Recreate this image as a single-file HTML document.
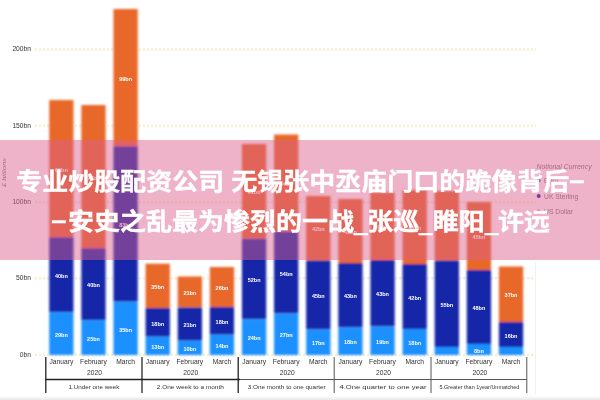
<!DOCTYPE html>
<html lang="zh-CN"><head><meta charset="utf-8"><title>chart</title>
<style>
html,body{margin:0;padding:0;background:#fff}
body{width:600px;height:400px;position:relative;overflow:hidden}
.foot{position:absolute;left:0;top:396px;width:600px;height:4px;background:linear-gradient(#fff,#e6e6e6)}
.band{position:absolute;left:0;top:140px;width:600px;height:120px;background:rgba(219,96,140,.48)}
.t{position:absolute;left:0;width:600px;height:40px;text-align:center;white-space:nowrap;color:#fff;font:bold 26px/40px "Liberation Sans","Noto Sans CJK SC",sans-serif;transform:scaleY(.91);transform-origin:50% 50%;-webkit-text-stroke:.4px #fff;filter:blur(.4px)}
.d{display:inline-block;width:14.5px;height:30px;vertical-align:top;position:relative}
.d span{position:absolute;left:1px;top:-2.2px;display:block;transform:scale(.53,1.1);transform-origin:0 50%}
.d2{width:18px}
.d2 span{left:1.6px}
.u{display:inline-block;width:13.3px;transform:translateY(4.4px) scale(.92,1.9);transform-origin:0 85%}
</style></head><body>
<svg width="600" height="400" viewBox="0 0 600 400" style="position:absolute;left:0;top:0"><defs><filter id="b" x="-5%" y="-5%" width="110%" height="110%"><feGaussianBlur stdDeviation="1.0"/></filter><filter id="lb" x="-5%" y="-5%" width="110%" height="110%"><feGaussianBlur stdDeviation="0.45"/></filter><filter id="tb" x="-20%" y="-50%" width="140%" height="200%"><feGaussianBlur stdDeviation="0.7"/></filter></defs><g filter="url(#tb)"><line x1="35" x2="536" y1="49.6" y2="49.6" stroke="#F8F0D4" stroke-width="2.6" stroke-dasharray="2.2 1.8"/><line x1="35" x2="536" y1="125.9" y2="125.9" stroke="#F8F0D4" stroke-width="2.6" stroke-dasharray="2.2 1.8"/><line x1="35" x2="536" y1="202.2" y2="202.2" stroke="#F8F0D4" stroke-width="2.6" stroke-dasharray="2.2 1.8"/><line x1="35" x2="536" y1="278.2" y2="278.2" stroke="#F8F0D4" stroke-width="2.6" stroke-dasharray="2.2 1.8"/><line x1="35" x2="536" y1="354.8" y2="354.8" stroke="#F8F0D4" stroke-width="2.6" stroke-dasharray="2.2 1.8"/><line x1="535.5" x2="535.5" y1="262" y2="394" stroke="#f0f0f0" stroke-width="1"/></g><g filter="url(#b)"><rect x="49.20" y="100" width="24.3" height="137" fill="#E8682A"/><rect x="49.20" y="237" width="24.3" height="75.19999999999999" fill="#1226A8"/><rect x="49.20" y="312.2" width="24.3" height="42.80000000000001" fill="#1E90FF"/><rect x="81.32" y="105" width="24.3" height="143" fill="#E8682A"/><rect x="81.32" y="248" width="24.3" height="72.19999999999999" fill="#1226A8"/><rect x="81.32" y="320.2" width="24.3" height="34.80000000000001" fill="#1E90FF"/><rect x="113.44" y="9" width="24.3" height="137" fill="#E8682A"/><rect x="113.44" y="146" width="24.3" height="155.7" fill="#1226A8"/><rect x="113.44" y="301.7" width="24.3" height="53.30000000000001" fill="#1E90FF"/><rect x="145.56" y="263.7" width="24.3" height="44.30000000000001" fill="#E8682A"/><rect x="145.56" y="308" width="24.3" height="28.69999999999999" fill="#1226A8"/><rect x="145.56" y="336.7" width="24.3" height="18.30000000000001" fill="#1E90FF"/><rect x="177.68" y="276.5" width="24.3" height="31.0" fill="#E8682A"/><rect x="177.68" y="307.5" width="24.3" height="33.19999999999999" fill="#1226A8"/><rect x="177.68" y="340.7" width="24.3" height="14.300000000000011" fill="#1E90FF"/><rect x="209.80" y="267" width="24.3" height="40" fill="#E8682A"/><rect x="209.80" y="307" width="24.3" height="27.69999999999999" fill="#1226A8"/><rect x="209.80" y="334.7" width="24.3" height="20.30000000000001" fill="#1E90FF"/><rect x="241.92" y="144" width="24.3" height="94.5" fill="#E8682A"/><rect x="241.92" y="238.5" width="24.3" height="80.80000000000001" fill="#1226A8"/><rect x="241.92" y="319.3" width="24.3" height="35.69999999999999" fill="#1E90FF"/><rect x="274.04" y="134.5" width="24.3" height="97.0" fill="#E8682A"/><rect x="274.04" y="231.5" width="24.3" height="82.0" fill="#1226A8"/><rect x="274.04" y="313.5" width="24.3" height="41.5" fill="#1E90FF"/><rect x="306.16" y="196" width="24.3" height="64.5" fill="#E8682A"/><rect x="306.16" y="260.5" width="24.3" height="69.0" fill="#1226A8"/><rect x="306.16" y="329.5" width="24.3" height="25.5" fill="#1E90FF"/><rect x="338.28" y="199" width="24.3" height="64" fill="#E8682A"/><rect x="338.28" y="263" width="24.3" height="64.5" fill="#1226A8"/><rect x="338.28" y="327.5" width="24.3" height="27.5" fill="#1E90FF"/><rect x="370.40" y="192.5" width="24.3" height="67.5" fill="#E8682A"/><rect x="370.40" y="260" width="24.3" height="66.5" fill="#1226A8"/><rect x="370.40" y="326.5" width="24.3" height="28.5" fill="#1E90FF"/><rect x="402.52" y="190" width="24.3" height="74" fill="#E8682A"/><rect x="402.52" y="264" width="24.3" height="65" fill="#1226A8"/><rect x="402.52" y="329" width="24.3" height="26" fill="#1E90FF"/><rect x="434.64" y="191" width="24.3" height="69.5" fill="#E8682A"/><rect x="434.64" y="260.5" width="24.3" height="86.5" fill="#1226A8"/><rect x="434.64" y="347" width="24.3" height="8" fill="#1E90FF"/><rect x="466.76" y="202" width="24.3" height="68" fill="#E8682A"/><rect x="466.76" y="270" width="24.3" height="74" fill="#1226A8"/><rect x="466.76" y="344" width="24.3" height="11" fill="#1E90FF"/><rect x="498.88" y="266.5" width="24.3" height="55.5" fill="#E8682A"/><rect x="498.88" y="322" width="24.3" height="25" fill="#1226A8"/><rect x="498.88" y="347" width="24.3" height="8" fill="#1E90FF"/></g><g filter="url(#lb)"><line x1="45.8" x2="45.8" y1="357" y2="393" stroke="#222" stroke-width="1.3"/><line x1="142" x2="142" y1="357" y2="393" stroke="#222" stroke-width="1.3"/><line x1="238.2" x2="238.2" y1="357" y2="393" stroke="#222" stroke-width="1.3"/><line x1="334.2" x2="334.2" y1="357" y2="393" stroke="#555" stroke-width="1.0"/><line x1="431" x2="431" y1="357" y2="393" stroke="#555" stroke-width="1.0"/><line x1="526.8" x2="526.8" y1="357" y2="393" stroke="#555" stroke-width="1.0"/><line x1="45.8" x2="240" y1="379.5" y2="379.5" stroke="#222" stroke-width="1.3"/><line x1="240" x2="526.8" y1="379.5" y2="379.5" stroke="#555" stroke-width="1"/></g><g filter="url(#tb)" font-family="Liberation Sans, sans-serif" font-size="6.7" fill="#333" text-anchor="middle"><text x="31" y="51.4" text-anchor="end">200bn</text><text x="31" y="127.80000000000001" text-anchor="end">150bn</text><text x="31" y="204.1" text-anchor="end">100bn</text><text x="31" y="280.4" text-anchor="end">50bn</text><text x="31" y="357.0" text-anchor="end">0bn</text><text transform="translate(5.6,172.5) rotate(-90)" font-size="6.2" font-style="italic" fill="#777" textLength="29" lengthAdjust="spacingAndGlyphs">£ billions</text><text x="61.4" y="364">January</text><text x="93.5" y="364">February</text><text x="125.6" y="364">March</text><text x="94.5" y="375.3">2020</text><text x="94.0" y="389.3" font-size="6.2" textLength="51" lengthAdjust="spacingAndGlyphs">1.Under one week</text><text x="157.7" y="364">January</text><text x="189.8" y="364">February</text><text x="222.0" y="364">March</text><text x="190.8" y="375.3">2020</text><text x="190.3" y="389.3" font-size="6.2" textLength="67" lengthAdjust="spacingAndGlyphs">2.One week to a month</text><text x="254.1" y="364">January</text><text x="286.2" y="364">February</text><text x="318.3" y="364">March</text><text x="287.2" y="375.3">2020</text><text x="286.7" y="389.3" font-size="6.2" textLength="78" lengthAdjust="spacingAndGlyphs">3.One month to one quarter</text><text x="350.4" y="364">January</text><text x="382.5" y="364">February</text><text x="414.7" y="364">March</text><text x="383.5" y="375.3">2020</text><text x="383.0" y="389.3" font-size="6.2" textLength="87" lengthAdjust="spacingAndGlyphs">4.One quarter to one year</text><text x="446.8" y="364">January</text><text x="478.9" y="364">February</text><text x="511.0" y="364">March</text><text x="479.9" y="375.3">2020</text><text x="479.4" y="389.3" font-size="6.2" textLength="80" lengthAdjust="spacingAndGlyphs">5.Greater than 1year/Unmatched</text><text x="564" y="168.6" font-size="6.9" font-style="italic" fill="#777">Notional Currency</text><circle cx="538.7" cy="180.5" r="2" fill="#1E90FF"/><text x="544" y="183.3" text-anchor="start" font-size="6.8" fill="#777">Euro</text><circle cx="538.7" cy="196" r="2" fill="#1226A8"/><text x="544" y="198.8" text-anchor="start" font-size="6.8" fill="#777">UK Sterling</text><circle cx="538.7" cy="211.5" r="2" fill="#E8682A"/><text x="544" y="214.3" text-anchor="start" font-size="6.8" fill="#777">US Dollar</text></g><g filter="url(#tb)" font-family="Liberation Sans, sans-serif" font-size="5.5" font-weight="bold" fill="#fff" text-anchor="middle"><text x="61.4" y="171.7">69bn</text><text x="61.4" y="277.8">40bn</text><text x="61.4" y="336.8">29bn</text><text x="93.5" y="179.7">71bn</text><text x="93.5" y="287.3">40bn</text><text x="93.5" y="340.8">25bn</text><text x="125.6" y="80.7">99bn</text><text x="125.6" y="227.0">83bn</text><text x="125.6" y="331.6">35bn</text><text x="157.7" y="289.1">35bn</text><text x="157.7" y="325.6">18bn</text><text x="157.7" y="349.1">13bn</text><text x="189.8" y="295.2">21bn</text><text x="189.8" y="327.3">21bn</text><text x="189.8" y="351.1">10bn</text><text x="222.0" y="290.2">26bn</text><text x="222.0" y="324.1">18bn</text><text x="222.0" y="348.1">14bn</text><text x="254.1" y="194.4">61bn</text><text x="254.1" y="282.1">52bn</text><text x="254.1" y="340.3">24bn</text><text x="286.2" y="186.2">64bn</text><text x="286.2" y="275.7">54bn</text><text x="286.2" y="337.4">27bn</text><text x="318.3" y="231.4">42bn</text><text x="318.3" y="298.2">45bn</text><text x="318.3" y="345.4">17bn</text><text x="350.4" y="234.2">42bn</text><text x="350.4" y="298.4">43bn</text><text x="350.4" y="344.4">18bn</text><text x="382.5" y="229.4">44bn</text><text x="382.5" y="296.4">43bn</text><text x="382.5" y="343.9">19bn</text><text x="414.7" y="230.2">48bn</text><text x="414.7" y="299.7">42bn</text><text x="414.7" y="345.2">18bn</text><text x="446.8" y="228.9">45bn</text><text x="446.8" y="306.9">55bn</text><text x="478.9" y="239.2">45bn</text><text x="478.9" y="310.2">48bn</text><text x="478.9" y="352.7">8bn</text><text x="511.0" y="297.4">37bn</text><text x="511.0" y="337.7">16bn</text></g></svg>
<div class="foot"></div>
<div class="band"></div>
<div class="t" style="top:161.9px">专业炒股配资公司 无锡张中丞庙门口的跪像背后<span class="d"><span>—</span></span></div>
<div class="t" style="top:201.9px"><span class="d d2"><span>—</span></span>安史之乱最为惨烈的一战<span class="u">_</span>张巡<span class="u">_</span>睢阳<span class="u">_</span>许远</div>
</body></html>
